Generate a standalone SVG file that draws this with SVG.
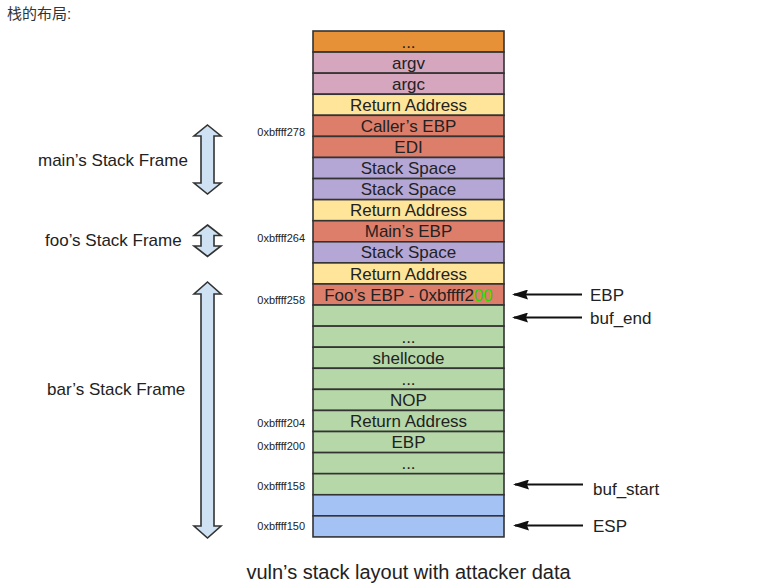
<svg xmlns="http://www.w3.org/2000/svg" width="780" height="588" viewBox="0 0 780 588">
<style>
.t{font-family:"Liberation Sans",Arial,sans-serif;fill:#222}
.row{stroke:#333;stroke-width:1.6}
.rt{font-size:17px;text-anchor:middle}
.ad{font-size:11px;text-anchor:end}
.lb{font-size:17px}
.dbl{fill:#cfe2f3;stroke:#333;stroke-width:1.6;stroke-linejoin:miter}
.ptr{stroke:#111;stroke-width:2}
.o{fill:#e69138}.p{fill:#d5a6bd}.y{fill:#ffe599}.r{fill:#dd7e6b}.u{fill:#b4a7d6}.g{fill:#b6d7a8}.b{fill:#a4c2f4}
</style>
<defs>
<marker id="ah" viewBox="0 0 16 10" refX="14" refY="5" markerWidth="16" markerHeight="10" markerUnits="userSpaceOnUse" orient="auto">
<path d="M16,5 L0,0 L2,5 L0,10 Z" fill="#111"/>
</marker>
</defs>
<rect width="780" height="588" fill="#fff"/>
<text class="t" x="7" y="19" style="font-family:'Liberation Sans','Noto Sans CJK SC',sans-serif;font-size:15px;fill:#333">栈的布局:</text>

<g id="stack">
<g id="row0"><rect class="row o" x="313" y="31" width="191" height="21.08"/><text class="t rt" x="408.5" y="47.5">...</text></g>
<g id="row1"><rect class="row p" x="313" y="52.08" width="191" height="21.08"/><text class="t rt" x="408.5" y="68.6">argv</text></g>
<g id="row2"><rect class="row p" x="313" y="73.16" width="191" height="21.08"/><text class="t rt" x="408.5" y="89.7">argc</text></g>
<g id="row3"><rect class="row y" x="313" y="94.24" width="191" height="21.08"/><text class="t rt" x="408.5" y="110.8">Return Address</text></g>
<g id="row4"><rect class="row r" x="313" y="115.32" width="191" height="21.08"/><text class="t rt" x="408.5" y="131.9">Caller’s EBP</text></g>
<g id="row5"><rect class="row r" x="313" y="136.4" width="191" height="21.08"/><text class="t rt" x="408.5" y="153">EDI</text></g>
<g id="row6"><rect class="row u" x="313" y="157.48" width="191" height="21.08"/><text class="t rt" x="408.5" y="174.1">Stack Space</text></g>
<g id="row7"><rect class="row u" x="313" y="178.56" width="191" height="21.08"/><text class="t rt" x="408.5" y="195.2">Stack Space</text></g>
<g id="row8"><rect class="row y" x="313" y="199.64" width="191" height="21.08"/><text class="t rt" x="408.5" y="216.2">Return Address</text></g>
<g id="row9"><rect class="row r" x="313" y="220.72" width="191" height="21.08"/><text class="t rt" x="408.5" y="237.3">Main’s EBP</text></g>
<g id="row10"><rect class="row u" x="313" y="241.8" width="191" height="21.08"/><text class="t rt" x="408.5" y="258.4">Stack Space</text></g>
<g id="row11"><rect class="row y" x="313" y="262.88" width="191" height="21.08"/><text class="t rt" x="408.5" y="279.5">Return Address</text></g>
<g id="row12"><rect class="row r" x="313" y="283.96" width="191" height="21.08"/><text class="t rt" x="408.5" y="300.6">Foo’s EBP - 0xbffff2<tspan style="fill:#22dd00">00</tspan></text></g>
<g id="row13"><rect class="row g" x="313" y="305.04" width="191" height="21.08"/></g>
<g id="row14"><rect class="row g" x="313" y="326.12" width="191" height="21.08"/><text class="t rt" x="408.5" y="342.7">...</text></g>
<g id="row15"><rect class="row g" x="313" y="347.2" width="191" height="21.08"/><text class="t rt" x="408.5" y="363.8">shellcode</text></g>
<g id="row16"><rect class="row g" x="313" y="368.28" width="191" height="21.08"/><text class="t rt" x="408.5" y="384.9">...</text></g>
<g id="row17"><rect class="row g" x="313" y="389.36" width="191" height="21.08"/><text class="t rt" x="408.5" y="406">NOP</text></g>
<g id="row18"><rect class="row g" x="313" y="410.44" width="191" height="21.08"/><text class="t rt" x="408.5" y="427">Return Address</text></g>
<g id="row19"><rect class="row g" x="313" y="431.52" width="191" height="21.08"/><text class="t rt" x="408.5" y="448.1">EBP</text></g>
<g id="row20"><rect class="row g" x="313" y="452.6" width="191" height="21.08"/><text class="t rt" x="408.5" y="469.2">...</text></g>
<g id="row21"><rect class="row g" x="313" y="473.68" width="191" height="21.08"/></g>
<g id="row22"><rect class="row b" x="313" y="494.76" width="191" height="21.08"/></g>
<g id="row23"><rect class="row b" x="313" y="515.84" width="191" height="21.08"/></g>
</g>

<g id="addresses">
<text class="t ad" x="305" y="135.5">0xbffff278</text>
<text class="t ad" x="305" y="242">0xbffff264</text>
<text class="t ad" x="305" y="304">0xbffff258</text>
<text class="t ad" x="305" y="426.5">0xbffff204</text>
<text class="t ad" x="305" y="449.5">0xbffff200</text>
<text class="t ad" x="305" y="489.5">0xbffff158</text>
<text class="t ad" x="305" y="529.5">0xbffff150</text>
</g>

<g id="main-frame">
<path class="dbl" d="M207.5,125 L221,136 L214,136 L214,183 L221,183 L207.5,194 L194,183 L201,183 L201,136 L194,136 Z"/>
<text class="t lb" x="38" y="166">main’s Stack Frame</text>
</g>
<g id="foo-frame">
<path class="dbl" d="M207.5,225 L221,235.5 L214,235.5 L214,246 L221,246 L207.5,256.5 L194,246 L201,246 L201,235.5 L194,235.5 Z"/>
<text class="t lb" x="45" y="246">foo’s Stack Frame</text>
</g>
<g id="bar-frame">
<path class="dbl" d="M207.5,282 L221,294 L214,294 L214,526 L221,526 L207.5,538 L194,526 L201,526 L201,294 L194,294 Z"/>
<text class="t lb" x="47" y="395">bar’s Stack Frame</text>
</g>

<g id="connectors">
<line class="ptr" x1="582" y1="294.5" x2="514" y2="294.5" marker-end="url(#ah)"/>
<line class="ptr" x1="582" y1="317.5" x2="514" y2="317.5" marker-end="url(#ah)"/>
<line class="ptr" x1="583" y1="484.5" x2="515" y2="484.5" marker-end="url(#ah)"/>
<line class="ptr" x1="583" y1="525.5" x2="515" y2="525.5" marker-end="url(#ah)"/>
</g>

<g id="pointers">
<text class="t lb" x="590" y="300.5">EBP</text>
<text class="t lb" x="590" y="323.5">buf_end</text>
<text class="t lb" x="593" y="495">buf_start</text>
<text class="t lb" x="593" y="532">ESP</text>
</g>

<text class="t" x="408.5" y="579" style="font-size:20px;text-anchor:middle">vuln’s stack layout with attacker data</text>
</svg>
